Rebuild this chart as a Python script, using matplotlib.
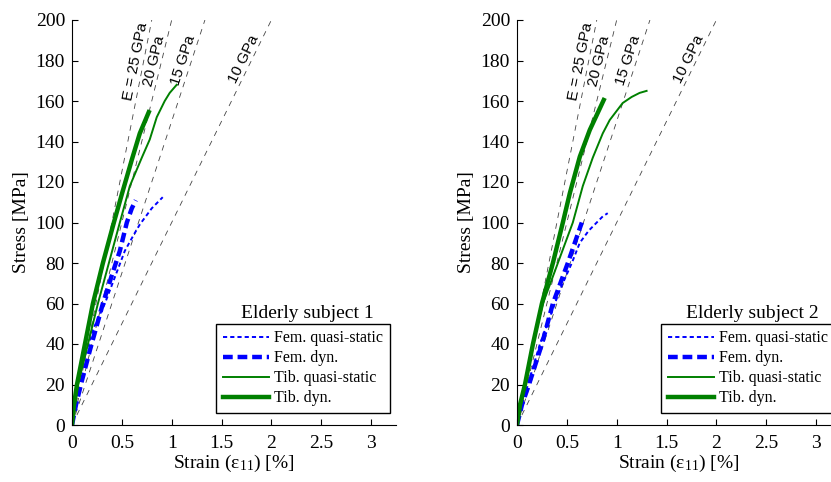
import numpy as np
import matplotlib
matplotlib.use("Agg")
import matplotlib.pyplot as plt

plt.rcParams['font.family'] = ['Liberation Serif', 'DejaVu Serif']
plt.rcParams['mathtext.fontset'] = 'custom'
plt.rcParams['mathtext.rm'] = 'Liberation Serif'
plt.rcParams['mathtext.it'] = 'Liberation Serif:italic'
plt.rcParams['mathtext.default'] = 'rm'
plt.rcParams['lines.scale_dashes'] = False

# ---------------- data (strain in %, stress in MPa) ----------------
moduli = [25, 20, 15, 10]   # GPa reference lines
modulus_labels = ['E = 25 GPa', '20 GPa', '15 GPa', '10 GPa']

series_names = ['Fem. quasi-static', 'Fem. dyn.', 'Tib. quasi-static', 'Tib. dyn.']

# subject 1
s1_fem_qs_strain = [0, 0.03, 0.11, 0.21, 0.33, 0.43, 0.53, 0.62, 0.68, 0.74, 0.80, 0.86, 0.91]
s1_fem_qs_stress = [0, 14, 31, 47, 60, 73, 86, 94, 99, 103, 107, 110, 112.5]
s1_fem_dyn_strain = [0, 0.04, 0.10, 0.18, 0.31, 0.40, 0.48, 0.55, 0.60, 0.64]
s1_fem_dyn_stress = [0, 10, 22, 37, 60, 74, 86, 100, 107, 111]
s1_tib_qs_strain = [0, 0.03, 0.06, 0.16, 0.26, 0.37, 0.48, 0.58, 0.70, 0.78, 0.85, 0.93, 0.98, 1.05]
s1_tib_qs_stress = [0, 10, 20, 40, 60, 80, 100, 118, 132, 141, 152, 160, 164, 168]
s1_tib_dyn_strain = [0, 0.02, 0.05, 0.13, 0.21, 0.31, 0.42, 0.50, 0.60, 0.68, 0.77]
s1_tib_dyn_stress = [0, 10, 20, 40, 60, 80, 100, 114, 131, 144, 154.5]

# subject 2
s2_fem_qs_strain = [0, 0.05, 0.11, 0.23, 0.38, 0.43, 0.55, 0.63, 0.72, 0.80, 0.86, 0.91]
s2_fem_qs_stress = [0, 10, 20, 40, 60, 66.7, 80, 90, 96, 100, 103, 104.6]
s2_fem_dyn_strain = [0, 0.05, 0.12, 0.25, 0.36, 0.45, 0.51, 0.58, 0.65]
s2_fem_dyn_stress = [0, 10, 20, 40, 60, 72, 80, 90, 100]
s2_tib_qs_strain = [0, 0.04, 0.08, 0.16, 0.26, 0.41, 0.56, 0.66, 0.76, 0.86, 0.93, 1.06, 1.15, 1.23, 1.30]
s2_tib_qs_stress = [0, 10, 20, 40, 60, 80, 100, 118, 132, 144, 150.6, 159, 162, 164, 165]
s2_tib_dyn_strain = [0, 0.03, 0.08, 0.16, 0.25, 0.36, 0.46, 0.53, 0.63, 0.73, 0.87]
s2_tib_dyn_stress = [0, 10, 20, 40, 60, 80, 100, 114.5, 132.5, 145.7, 160.5]

subjects = [
    ('Elderly subject 1',
     [(s1_fem_qs_strain, s1_fem_qs_stress), (s1_fem_dyn_strain, s1_fem_dyn_stress),
      (s1_tib_qs_strain, s1_tib_qs_stress), (s1_tib_dyn_strain, s1_tib_dyn_stress)]),
    ('Elderly subject 2',
     [(s2_fem_qs_strain, s2_fem_qs_stress), (s2_fem_dyn_strain, s2_fem_dyn_stress),
      (s2_tib_qs_strain, s2_tib_qs_stress), (s2_tib_dyn_strain, s2_tib_dyn_stress)]),
]

x_ticks = [0, 0.5, 1, 1.5, 2, 2.5, 3]
x_ticklabels = ['0', '0.5', '1', '1.5', '2', '2.5', '3']
y_ticks = list(range(0, 201, 20))

# styles: colour, linewidth, dash pattern (None = solid)
styles = [('#0000ff', 1.4, (3.0, 2.2)),
          ('#0000ff', 3.2, (7.0, 3.5)),
          ('#008000', 1.4, None),
          ('#008000', 3.2, None)]

fig = plt.figure(figsize=(8.31, 4.82), dpi=100)
ax_rects = [[72/831, 57/482, 324/831, 405/482],
            [517/831, 57/482, 324/831, 405/482]]

for rect, (title, curves) in zip(ax_rects, subjects):
    ax = fig.add_axes(rect)
    ax.set_xlim(0, 3.25)
    ax.set_ylim(0, 200)

    # reference modulus lines
    for E in moduli:
        ax.plot([0, 200/(10*E)], [0, 200], color='#444444', lw=0.6,
                dashes=(4.0, 4.0), zorder=1)

    # curves
    for (xs, ys), name, (col, lw, dsh) in zip(curves, series_names, styles):
        if dsh is None:
            ax.plot(xs, ys, color=col, lw=lw, label=name, zorder=2)
        else:
            ax.plot(xs, ys, color=col, lw=lw, dashes=dsh, label=name, zorder=2)

    ax.spines['top'].set_visible(False)
    ax.spines['right'].set_visible(False)
    ax.set_xticks(x_ticks)
    ax.set_xticklabels(x_ticklabels)
    ax.set_yticks(y_ticks)
    ax.tick_params(direction='in', length=4, width=0.8, labelsize=14, pad=5)
    ax.tick_params(axis='x', pad=7)
    ax.set_xlabel('Strain (ε$_{11}$) [%]', fontsize=14, labelpad=1)
    ax.set_ylabel('Stress [MPa]', fontsize=14, labelpad=4)

    # modulus labels, rotated along each line
    for E, lbl in zip(moduli, modulus_labels):
        p0 = ax.transData.transform((0, 0))
        p1 = ax.transData.transform((200/(10*E), 200))
        ang = np.degrees(np.arctan2(p1[1]-p0[1], p1[0]-p0[0]))
        yc = 179
        xc = yc/(10*E)
        d = 5.5
        th = np.radians(ang)
        ax.annotate(lbl, xy=(xc, yc), xytext=(-d*np.sin(th), d*np.cos(th)),
                    textcoords='offset points', rotation=ang,
                    ha='center', va='center', rotation_mode='anchor',
                    fontsize=11, family=['Liberation Sans', 'DejaVu Sans'])

    leg = ax.legend(loc='lower right', bbox_to_anchor=(0.981, 0.03),
                    borderaxespad=0, fancybox=False, edgecolor='black',
                    framealpha=1, fontsize=11.5, handlelength=2.9,
                    handletextpad=0.35, borderpad=0.4, labelspacing=0.25)
    leg.get_frame().set_linewidth(1.0)

    ax.text(0.728, 0.2765, title, transform=ax.transAxes, ha='center',
            va='center', fontsize=14)

fig.savefig('out.png', dpi=100)
